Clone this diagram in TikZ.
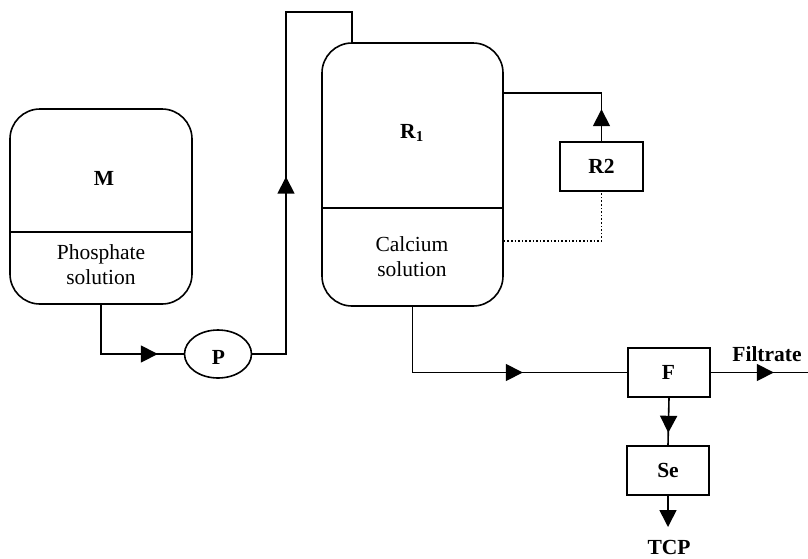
\documentclass[tikz,border=0pt]{standalone}
\usepackage{fontspec}
\setmainfont{Liberation Serif}
\usetikzlibrary{arrows.meta,decorations.markings,shapes.geometric}
\begin{document}
\begin{tikzpicture}[x=1pt,y=-1pt,
  every path/.style={line width=1.6pt},
  tank/.style={draw,rounded corners=30pt,line width=1.6pt},
  box/.style={draw,rectangle,line width=1.6pt,minimum width=82pt,minimum height=49pt,inner sep=0pt},
  pump/.style={draw,ellipse,line width=1.6pt,minimum width=67pt,minimum height=48pt,inner sep=0pt},
  lbl/.style={font=\fontsize{21.5}{25}\selectfont\bfseries,inner sep=0pt,anchor=base},
  txt/.style={font=\fontsize{21.5}{25}\selectfont,align=center,inner sep=0pt},
  midarrow/.style={postaction={decorate,decoration={markings,
      mark=at position #1 with {\arrow{Triangle[length=17pt,width=17pt]}}}}},
  tipend/.style={-{Triangle[length=17pt,width=17pt]}}
]
\useasboundingbox (0,0) rectangle (808,558);

% tanks
\node[tank,minimum width=182pt,minimum height=195pt] (M) at (101,206.5) {};
\draw (M.west |- 0,232) -- (M.east |- 0,232);
\node[lbl] (Mlab) at (104,185) {M};
\node[txt] (Mtxt) at (101,264.5) {Phosphate\\solution};

\node[tank,minimum width=181pt,minimum height=263pt] (R1) at (412.5,174.5) {};
\draw (R1.west |- 0,208) -- (R1.east |- 0,208);
\node[lbl] (R1lab) at (412,138) {R\textsubscript{1}};
\node[txt] (R1txt) at (412,256.5) {Calcium\\solution};

% pump and units
\node[pump] (P) at (218,354) {};
\node[lbl] (Plab) at (218.5,364) {P};
\node[box,minimum width=83pt] (R2) at (601.5,166.5) {};
\node[lbl] (R2lab) at (601.5,173) {R2};
\node[box] (F) at (669,372.5) {};
\node[lbl] (Flab) at (668.5,379) {F};
\node[box] (Se) at (668,470.5) {};
\node[lbl] (Selab) at (668,477) {Se};

\node[lbl] (TCP) at (669,554) {TCP};
\node[lbl] (Filt) at (767,361) {Filtrate};

\coordinate (fend) at (808,372.5);
\coordinate (tcpend) at (668,527);
\coordinate (top1) at (286,12);

% connectors
\draw[midarrow=106pt] (M.south) |- (P.west);
\draw[midarrow=211pt] (P.east) -| (top1) -| ([xshift=-60.5pt]R1.north);
\draw[midarrow=32pt] (R2.north) |- (R1.east |- 0,93);
\draw[dotted] (R1.east |- 0,241) -| (R2.south);
\draw[midarrow=176pt] (R1.south) |- (F.west);
\draw[midarrow=63pt] (F.east) -- (fend);
\draw[midarrow=35pt] (F.south) -- (Se.north);
\draw[tipend] (Se.south) -- (tcpend);
\end{tikzpicture}
\end{document}
